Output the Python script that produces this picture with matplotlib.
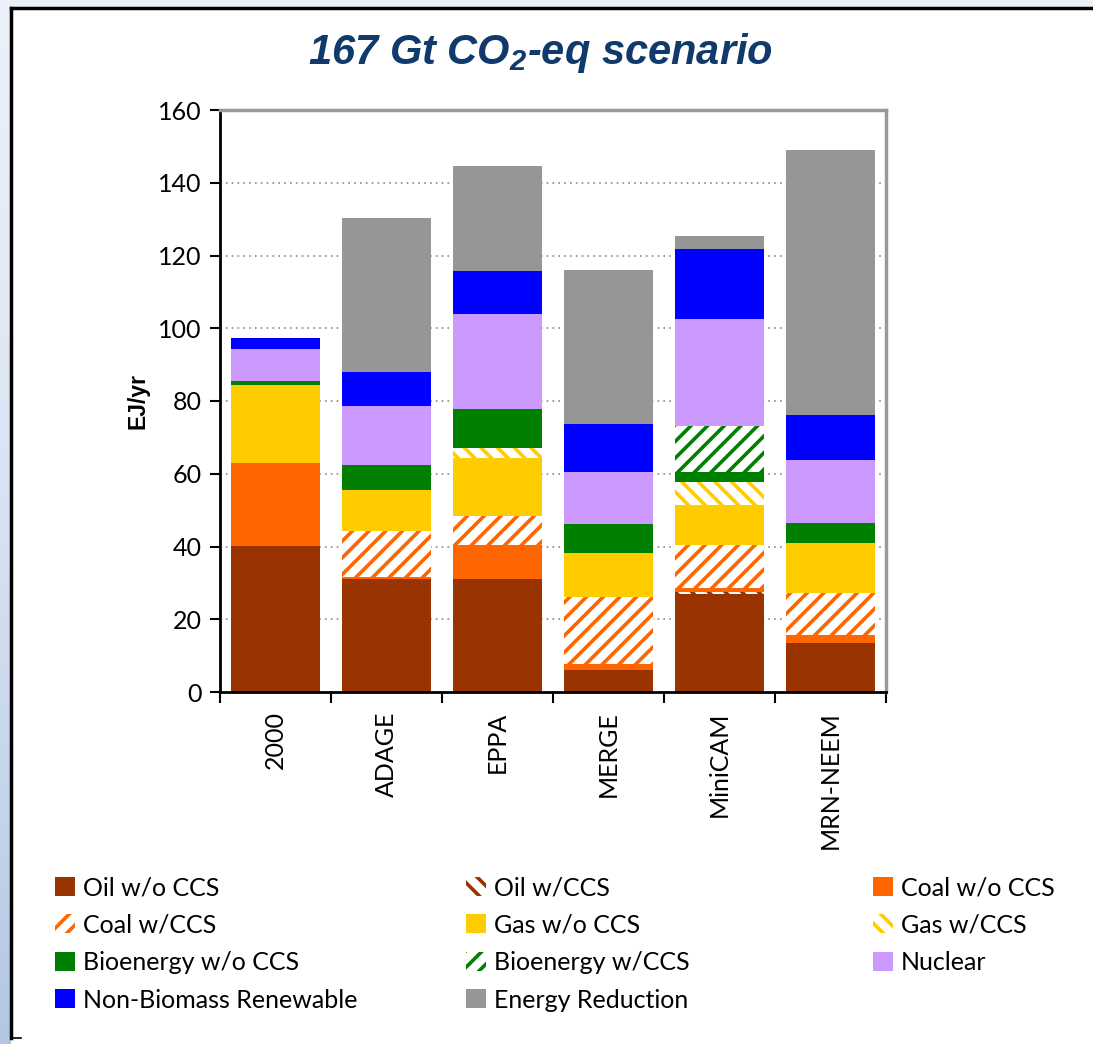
import matplotlib
matplotlib.use("Agg")
import matplotlib.pyplot as plt
import numpy as np
from matplotlib.patches import Rectangle
from matplotlib.lines import Line2D

# ── data (EJ/yr) ──────────────────────────────────────────────────────────────
models = ["2000", "ADAGE", "EPPA", "MERGE", "MiniCAM", "MRN-NEEM"]

oil_wo    = [40.2, 31.2, 31.0, 6.0, 26.9, 13.4]
oil_ccs   = [0.0, 0.0, 0.0, 0.0, 0.7, 0.0]
coal_wo   = [22.7, 0.5, 9.4, 1.6, 1.0, 2.2]
coal_ccs  = [0.0, 12.6, 8.0, 18.5, 11.8, 11.6]
gas_wo    = [21.4, 11.2, 16.0, 12.2, 11.1, 13.8]
gas_ccs   = [0.0, 0.0, 2.8, 0.0, 6.3, 0.0]
bio_wo    = [1.2, 6.9, 10.5, 7.8, 2.6, 5.4]
bio_ccs   = [0.0, 0.0, 0.0, 0.0, 12.8, 0.0]
nuclear   = [8.9, 16.2, 26.1, 14.3, 29.4, 17.5]
renew     = [3.0, 9.5, 11.9, 13.2, 19.1, 12.2]
reduction = [0.0, 42.3, 28.8, 42.3, 3.6, 72.8]

yticks = [0, 20, 40, 60, 80, 100, 120, 140, 160]

# (label, values, colour, hatch)
series = [
    ("Oil w/o CCS", oil_wo, "#993300", None),
    ("Oil w/CCS", oil_ccs, "#993300", "\\\\"),
    ("Coal w/o CCS", coal_wo, "#ff6600", None),
    ("Coal w/CCS", coal_ccs, "#ff6600", "//"),
    ("Gas w/o CCS", gas_wo, "#ffcc00", None),
    ("Gas w/CCS", gas_ccs, "#ffcc00", "\\\\"),
    ("Bioenergy w/o CCS", bio_wo, "#008000", None),
    ("Bioenergy w/CCS", bio_ccs, "#008000", "//"),
    ("Nuclear", nuclear, "#cc99ff", None),
    ("Non-Biomass Renewable", renew, "#0000ff", None),
    ("Energy Reduction", reduction, "#969696", None),
]

plt.rcParams["hatch.linewidth"] = 2.6
plt.rcParams["font.family"] = ["Lato", "DejaVu Sans"]
plt.rcParams["mathtext.fontset"] = "custom"
plt.rcParams["mathtext.rm"] = "Liberation Sans:bold:italic"
plt.rcParams["mathtext.it"] = "Liberation Sans:bold:italic"

W, H = 1093, 1044
fig = plt.figure(figsize=(W / 100, H / 100), dpi=100)

# ── slide background: bluish gradient, white panel with black frame ─────────
bg = fig.add_axes([0, 0, 1, 1], zorder=-10)
grad = np.linspace(0, 1, 256)[:, None]
top_c = np.array([0.92, 0.94, 0.975])
bot_c = np.array([0.70, 0.78, 0.89])
img = top_c[None, None, :] * (1 - grad[..., None] ** 1.5) + bot_c[None, None, :] * grad[..., None] ** 1.5
bg.imshow(img, extent=[0, 1, 0, 1], aspect="auto", origin="upper")
bg.add_patch(Rectangle((11 / W, 0), 1, 1 - 8 / H, facecolor="white", edgecolor="none"))
bg.add_line(Line2D([11 / W, 1], [1 - 8 / H, 1 - 8 / H], color="black", lw=2.5))
bg.add_line(Line2D([11 / W, 11 / W], [1 - 8 / H, 1 - 1038 / H], color="black", lw=2.5))
bg.add_line(Line2D([11 / W, 21 / W], [1 - 1038 / H, 1 - 1038 / H], color="black", lw=1.2))
bg.set_xlim(0, 1)
bg.set_ylim(0, 1)
bg.axis("off")

# ── chart ────────────────────────────────────────────────────────────────────
ax = fig.add_axes([220 / W, 1 - 692 / H, 666 / W, 582 / H])
x = np.arange(len(models))
bottom = np.zeros(len(models))
handles = []
for label, vals, col, hatch in series:
    vals = np.array(vals)
    if hatch:
        ax.bar(x, vals, 0.8, bottom=bottom, facecolor="white", edgecolor=col,
               hatch=hatch, linewidth=0)
        h = Rectangle((0, 0), 1, 1, facecolor="white", edgecolor=col, hatch=hatch, linewidth=0)
    else:
        ax.bar(x, vals, 0.8, bottom=bottom, color=col, linewidth=0)
        h = Rectangle((0, 0), 1, 1, facecolor=col, linewidth=0)
    handles.append((h, label))
    bottom += vals

ax.set_xlim(-0.5, len(models) - 0.5)
ax.set_ylim(0, 160)
ax.set_yticks(yticks)
ax.set_yticklabels([str(t) for t in yticks], fontsize=18)
ax.tick_params(axis="y", direction="out", length=7, width=1.5, pad=6)
for t in yticks[1:-1]:
    ax.axhline(t, color="#888888", lw=1.2, ls=(0, (1, 2.5)), zorder=0)

ax.set_xticks(np.arange(-0.5, len(models)), minor=False)
ax.set_xticklabels([])
ax.tick_params(axis="x", which="major", direction="out", length=8, width=1.5)
ax.set_xticks(x, minor=True)
ax.set_xticklabels(models, minor=True, rotation=90, fontsize=18, va="top")
ax.tick_params(axis="x", which="minor", length=0, pad=14)

for s in ["left", "bottom"]:
    ax.spines[s].set_linewidth(2)
    ax.spines[s].set_color("black")
for s in ["top", "right"]:
    ax.spines[s].set_linewidth(2.5)
    ax.spines[s].set_color("#999999")

ax.set_ylabel("EJ/yr", fontsize=16.5, fontweight="bold", family="Liberation Sans")
ax.yaxis.set_label_coords(-0.106, 0.5)

fig.text(540 / W, 1 - 53 / H, "167 Gt CO$_{2}$-eq scenario", ha="center", va="center",
         fontsize=30, color="#0f3a6b", fontweight="bold", fontstyle="italic",
         family="Liberation Sans")

# ── legend: three columns, row-major order ───────────────────────────────────
col_x = [55, 466, 873]
for c in range(3):
    hs = handles[c::3]
    fig.legend([h for h, _ in hs], [l for _, l in hs], loc="upper left",
               bbox_to_anchor=(col_x[c] / W, 1 - 876 / H), frameon=False,
               fontsize=18, handlelength=0.8, handleheight=0.8,
               handletextpad=0.32, labelspacing=0.58, borderpad=0, borderaxespad=0)

fig.savefig("out.png", dpi=100)
